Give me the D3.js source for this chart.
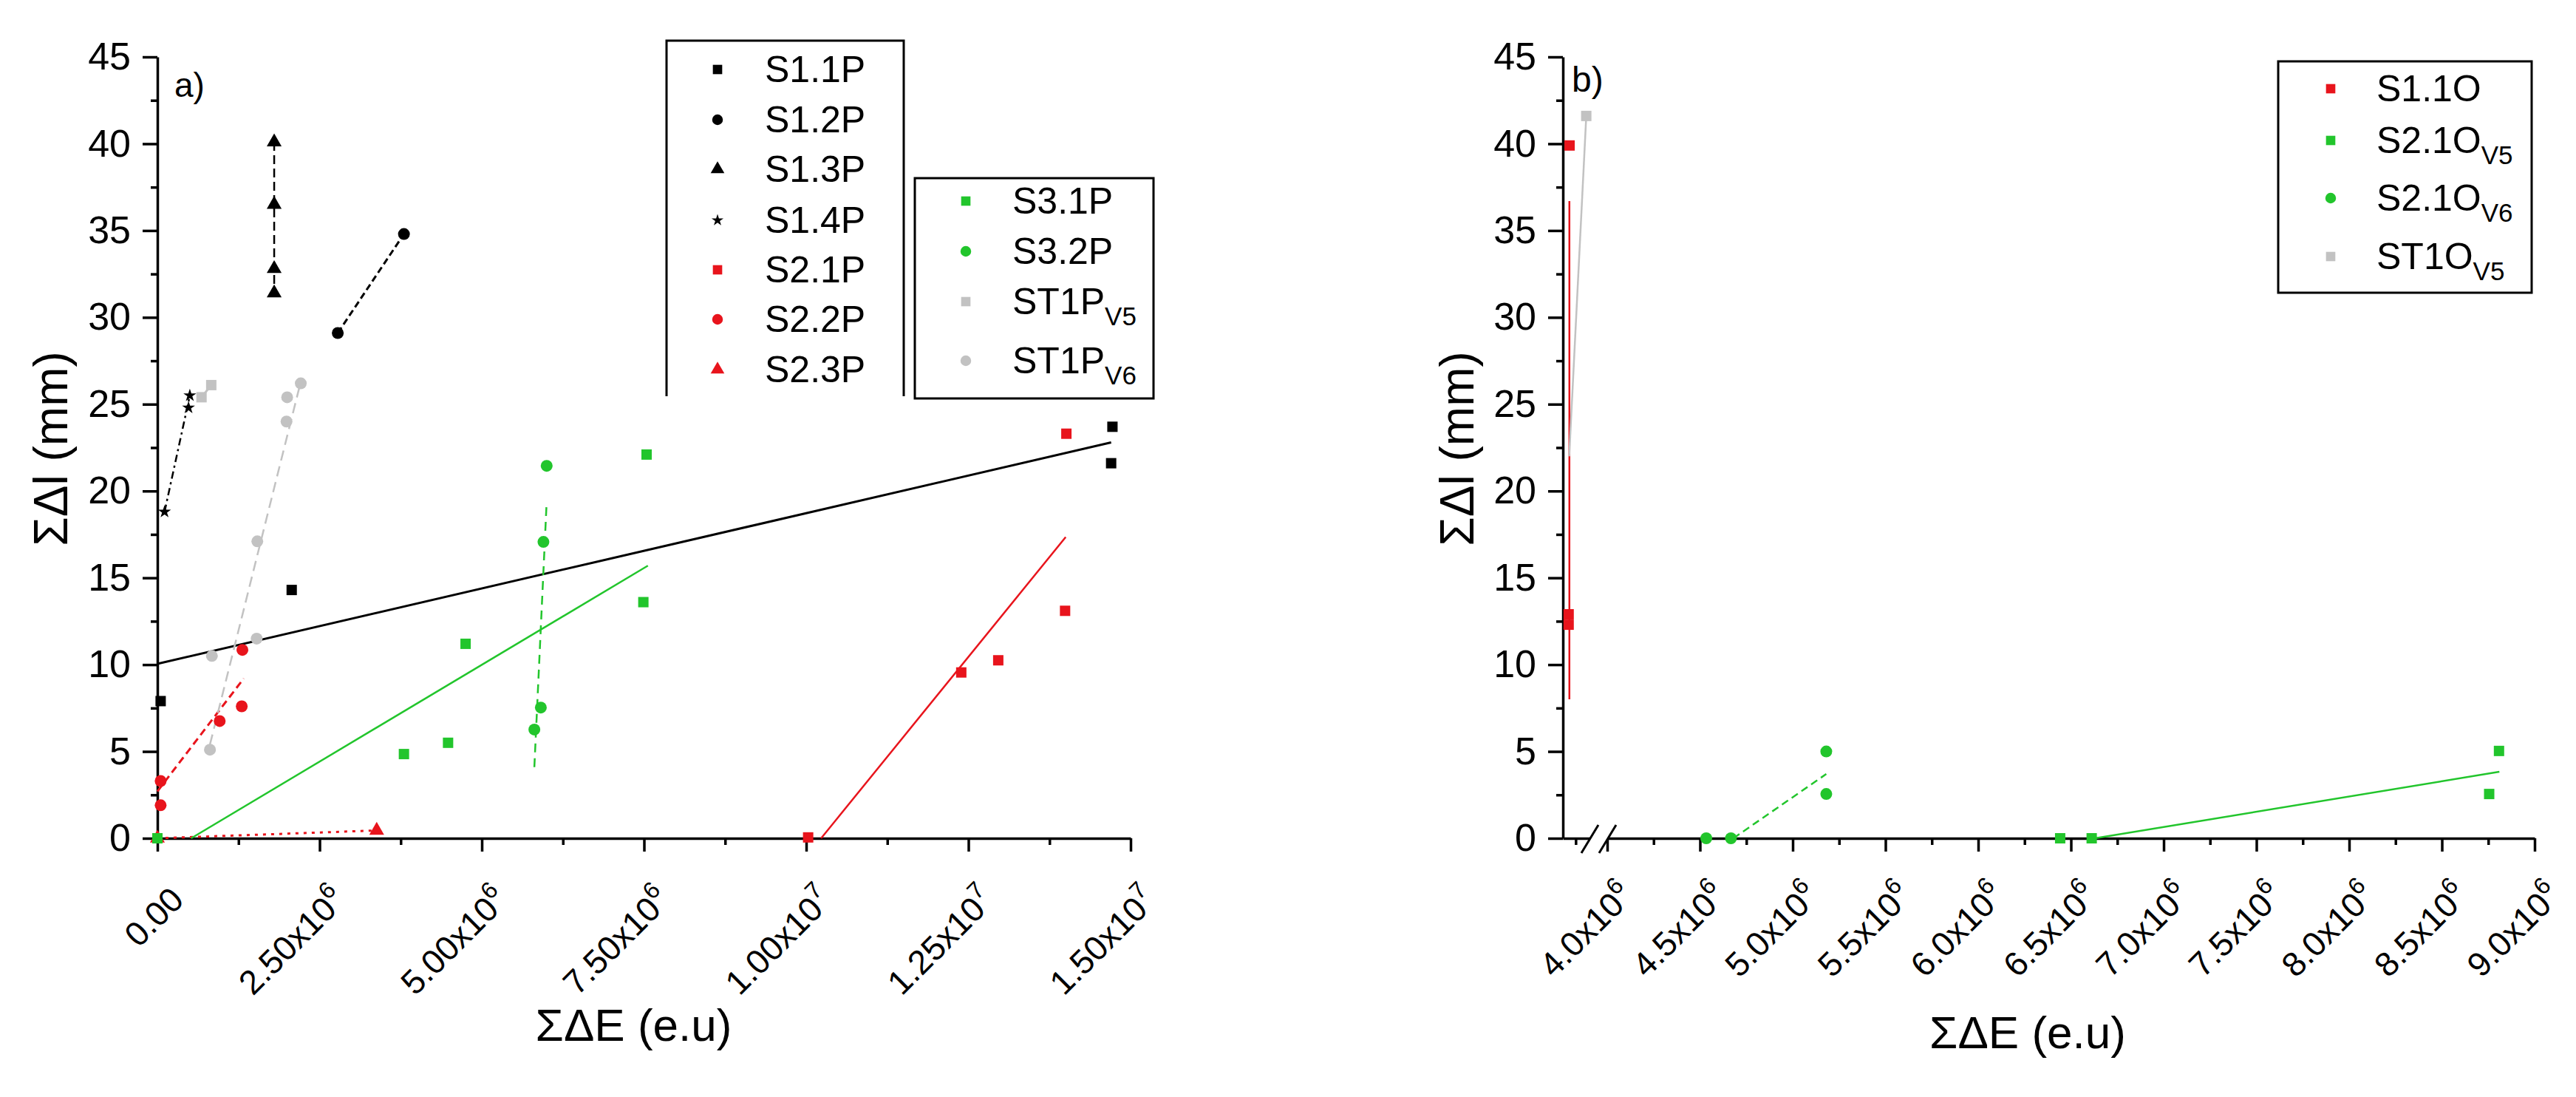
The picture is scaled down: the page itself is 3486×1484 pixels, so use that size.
<!DOCTYPE html>
<html>
<head>
<meta charset="utf-8">
<script src="https://cdn.jsdelivr.net/npm/d3@7"></script>
<style>
body { margin: 0; background: #fff; }
text { font-family: 'Liberation Sans', Arial, sans-serif; fill: #000; }
</style>
</head>
<body>
<div id="chart"></div>
<script>
// ---- panel a) data : [energy, elongation]
var S11P = [[0.05e6, 7.9], [2.07e6, 14.3], [14.72e6, 23.7], [14.70e6, 21.6]]
var S11P_fit = [[0, 10.05], [14.7e6, 22.8]]
var S12P = [[2.78e6, 29.1], [3.80e6, 34.8]]
var S13P = [[1.8e6, 40.1], [1.8e6, 36.5], [1.8e6, 32.8], [1.8e6, 31.4]]
var S14P = [[0.11e6, 18.8], [0.48e6, 24.8], [0.50e6, 25.5]]
var S21P = [[10.03e6, 0.05], [12.39e6, 9.55], [12.96e6, 10.25], [13.99e6, 13.1], [14.01e6, 23.3]]
var S21P_fit = [[10.23e6, 0], [14.0e6, 17.35]]
var S22P = [[0.05e6, 3.3], [0.05e6, 1.9], [0.96e6, 6.75], [1.30e6, 7.6], [1.31e6, 10.85]]
var S22P_fit = [[0, 2.7], [1.33e6, 9.2]]
var S23P = [[0, 0], [3.38e6, 0.45]]
var S31P = [[0, 0], [3.80e6, 4.85], [4.48e6, 5.5], [4.75e6, 11.2], [7.49e6, 13.6], [7.54e6, 22.1]]
var S31P_fit = [[0.52e6, 0], [7.56e6, 15.7]]
var S32P = [[6.0e6, 21.45], [5.95e6, 17.07], [5.91e6, 7.53], [5.81e6, 6.26]]
var S32P_fit = [[5.81e6, 4.1], [6.0e6, 19.4]]
var ST1PV5 = [[0.68e6, 25.4], [0.83e6, 26.1]]
var ST1PV6 = [[2.0e6, 25.4], [1.99e6, 24.0], [2.21e6, 26.2], [1.54e6, 17.1], [1.53e6, 11.5], [0.84e6, 10.5], [0.81e6, 5.1]]
var ST1PV6_fit = [[0.81e6, 5.4], [2.19e6, 26.0]]

// ---- panel b) data
var S11O = [[3.797e6, 39.9], [3.792e6, 12.9], [3.792e6, 12.3]]
var S11O_fit = [[3.796e6, 8.0], [3.796e6, 36.7]]
var ST1OV5 = [[3.887e6, 41.6]]
var ST1OV5_fit = [[3.795e6, 22.0], [3.887e6, 41.6]]
var S21OV5 = [[6.442e6, 0], [6.612e6, 0], [8.808e6, 5.03], [8.755e6, 2.55]]
var S21OV5_fit = [[6.63e6, 0], [8.81e6, 3.83]]
var S21OV6 = [[4.534e6, 0], [4.667e6, 0], [5.181e6, 5.0], [5.181e6, 2.55]]
var S21OV6_fit = [[4.68e6, 0], [5.181e6, 3.7]]

// ---- ticks
var yTicks = [0, 5, 10, 15, 20, 25, 30, 35, 40, 45]
var xTicksA = [0, 2.5e6, 5.0e6, 7.5e6, 1.0e7, 1.25e7, 1.5e7]
var xTickLabelsA = ['0.00', '2.50x10^6', '5.00x10^6', '7.50x10^6', '1.00x10^7', '1.25x10^7', '1.50x10^7']
var xTicksB = [4.0e6, 4.5e6, 5.0e6, 5.5e6, 6.0e6, 6.5e6, 7.0e6, 7.5e6, 8.0e6, 8.5e6, 9.0e6]
var xTickLabelsB = ['4.0x10^6', '4.5x10^6', '5.0x10^6', '5.5x10^6', '6.0x10^6', '6.5x10^6', '7.0x10^6', '7.5x10^6', '8.0x10^6', '8.5x10^6', '9.0x10^6']

var BLACK = '#000', RED = '#e8141c', GREEN = '#22c52c', GRAY = '#c2c2c2'

var svg = d3.select('#chart')
    .append('svg')
    .attr('width', 3486)
    .attr('height', 1484)
    .style('background', '#fff')

var y = d3.scaleLinear().domain([0, 45]).range([1134, 77])

draw1()
draw2()

function drawAxes(x, xMinor, xTicks, xLabels, labelDy, yTitleX) {
    var g = svg.append('g')

    g.append('g')
        .attr('transform', `translate(0, ${y(0)})`)
        .call(d3.axisBottom(x).tickValues(xMinor).tickSize(9).tickSizeOuter(0).tickFormat(''))
        .call(a => a.select('.domain').remove())
    g.append('g')
        .attr('transform', `translate(0, ${y(0)})`)
        .call(d3.axisBottom(x).tickValues(xTicks).tickSize(18).tickSizeOuter(0).tickFormat(''))

    var x0 = x.range()[0]
    g.append('g')
        .attr('transform', `translate(${x0}, 0)`)
        .call(d3.axisLeft(y).tickValues(d3.range(2.5, 45, 5)).tickSize(9).tickSizeOuter(0).tickFormat(''))
        .call(a => a.select('.domain').remove())
    var ya = g.append('g')
        .attr('transform', `translate(${x0}, 0)`)
        .call(d3.axisLeft(y).tickValues(yTicks).tickSize(20).tickSizeOuter(0).tickPadding(16))
    ya.selectAll('text')
        .attr('font-size', 52)
        .attr('font-family', "'Liberation Sans', Arial, sans-serif")

    g.selectAll('path.domain, line').attr('stroke', BLACK).attr('stroke-width', 3.5)

    // rotated tick labels with superscript exponent
    var lab = g.append('g').selectAll('text')
        .data(xTicks)
        .enter().append('text')
        .attr('text-anchor', 'end')
        .attr('font-size', 46)
        .attr('transform', d => `translate(${x(d) + 38}, ${y(0) + labelDy}) rotate(-45)`)
    lab.each(function (d, i) {
        var parts = xLabels[i].split('^')
        var t = d3.select(this)
        t.append('tspan').text(parts[0])
        if (parts[1]) {
            t.append('tspan').attr('font-size', 32).attr('dy', -20).text(parts[1])
        }
    })

    g.append('text')
        .attr('transform', `translate(${yTitleX}, 607) rotate(-90)`)
        .attr('text-anchor', 'middle')
        .attr('font-size', 64)
        .text('ΣΔl (mm)')
    return g
}

function line(g, pts, color, width, dash) {
    g.append('path')
        .attr('d', d3.line().x(d => g.x(d[0])).y(d => y(d[1]))(pts))
        .attr('fill', 'none')
        .attr('stroke', color)
        .attr('stroke-width', width)
        .attr('stroke-dasharray', dash || null)
}

function points(g, pts, shape, size, color) {
    g.append('g').selectAll('path')
        .data(pts)
        .enter().append('path')
        .attr('d', d3.symbol().type(shape).size(size))
        .attr('transform', d => `translate(${g.x(d[0])}, ${y(d[1])})`)
        .attr('fill', color)
}

function legendRow(g, lx, tx, ry, shape, size, color, label) {
    g.append('path')
        .attr('d', d3.symbol().type(shape).size(size))
        .attr('transform', `translate(${lx}, ${ry})`)
        .attr('fill', color)
    var parts = label.split('_')
    var t = g.append('text')
        .attr('x', tx)
        .attr('y', ry + 17)
        .attr('font-size', 50)
    t.append('tspan').text(parts[0])
    if (parts[1]) {
        t.append('tspan').attr('font-size', 35).attr('dy', 15).text(parts[1])
    }
}

function draw1() {
    var x = d3.scaleLinear().domain([0, 1.5e7]).range([213, 1530])
    drawAxes(x, d3.range(1.25e6, 1.5e7, 2.5e6), xTicksA, xTickLabelsA, 86, 91)

    var g = svg.append('g')
    g.x = x

    line(g, S11P_fit, BLACK, 3)
    line(g, S12P, BLACK, 3, '9,5')
    line(g, [S13P[0], S13P[3]], BLACK, 2.5, '12,6')
    line(g, [S14P[0], S14P[2]], BLACK, 2.5, '10,5,3,5')
    line(g, S21P_fit, RED, 2.5)
    line(g, S22P_fit, RED, 3, '10,6')
    line(g, S23P, RED, 3, '4,7')
    line(g, S31P_fit, GREEN, 2.5)
    line(g, S32P_fit, GREEN, 2.5, '12,8')
    line(g, ST1PV5, GRAY, 3)
    line(g, ST1PV6_fit, GRAY, 2.5, '14,8')

    points(g, ST1PV5, d3.symbolSquare, 196, GRAY)
    points(g, ST1PV6, d3.symbolCircle, 201, GRAY)
    points(g, S11P, d3.symbolSquare, 196, BLACK)
    points(g, S12P, d3.symbolCircle, 201, BLACK)
    points(g, S13P, d3.symbolTriangle, 175, BLACK)
    points(g, S14P, d3.symbolStar, 95, BLACK)
    points(g, S21P, d3.symbolSquare, 196, RED)
    points(g, S22P, d3.symbolCircle, 201, RED)
    points(g, S23P, d3.symbolTriangle, 175, RED)
    points(g, S31P, d3.symbolSquare, 196, GREEN)
    points(g, S32P, d3.symbolCircle, 201, GREEN)

    svg.append('text').attr('x', 236).attr('y', 131).attr('font-size', 46).text('a)')

    svg.append('text')
        .attr('x', (x.range()[0] + x.range()[1]) / 2 - 14)
        .attr('y', 1408)
        .attr('text-anchor', 'middle')
        .attr('font-size', 62)
        .text('ΣΔE (e.u)')

    // legend 1 (box open at the bottom)
    var l1 = svg.append('g')
    l1.append('path')
        .attr('d', 'M902,536V55H1223V536')
        .attr('fill', '#fff')
        .attr('stroke', BLACK)
        .attr('stroke-width', 3)
    var rows1 = [94, 162, 229, 298, 365, 432, 500]
    legendRow(l1, 971, 1035, rows1[0], d3.symbolSquare, 160, BLACK, 'S1.1P')
    legendRow(l1, 971, 1035, rows1[1], d3.symbolCircle, 165, BLACK, 'S1.2P')
    legendRow(l1, 971, 1035, rows1[2], d3.symbolTriangle, 150, BLACK, 'S1.3P')
    legendRow(l1, 971, 1035, rows1[3], d3.symbolStar, 80, BLACK, 'S1.4P')
    legendRow(l1, 971, 1035, rows1[4], d3.symbolSquare, 160, RED, 'S2.1P')
    legendRow(l1, 971, 1035, rows1[5], d3.symbolCircle, 165, RED, 'S2.2P')
    legendRow(l1, 971, 1035, rows1[6], d3.symbolTriangle, 150, RED, 'S2.3P')

    var l2 = svg.append('g')
    l2.append('rect')
        .attr('x', 1238).attr('y', 241)
        .attr('width', 323).attr('height', 298)
        .attr('fill', '#fff')
        .attr('stroke', BLACK)
        .attr('stroke-width', 3)
    legendRow(l2, 1307, 1370, 272, d3.symbolSquare, 160, GREEN, 'S3.1P')
    legendRow(l2, 1307, 1370, 340, d3.symbolCircle, 165, GREEN, 'S3.2P')
    legendRow(l2, 1307, 1370, 408, d3.symbolSquare, 160, GRAY, 'ST1P_V5')
    legendRow(l2, 1307, 1370, 488, d3.symbolCircle, 165, GRAY, 'ST1P_V6')
}

function draw2() {
    var x = d3.scaleLinear().domain([3.761e6, 9.0e6]).range([2115, 3430])
    var minor = [3.83e6].concat(d3.range(4.25e6, 9.0e6, 0.5e6))
    drawAxes(x, minor, xTicksB, xTickLabelsB, 80, 1994)

    // axis break marks
    var bx = x(4.0e6)
    var brk = svg.append('g')
    brk.append('path')
        .attr('d', `M${bx - 35},${y(0) + 19}L${bx - 12},${y(0) - 19}L${bx + 12},${y(0) - 19}L${bx - 11},${y(0) + 19}Z`)
        .attr('fill', '#fff')
    ;[bx - 24, bx].forEach(cx => {
        brk.append('line')
            .attr('x1', cx - 11).attr('y1', y(0) + 20)
            .attr('x2', cx + 12).attr('y2', y(0) - 18)
            .attr('stroke', BLACK)
            .attr('stroke-width', 3)
    })

    var g = svg.append('g')
    g.x = x

    line(g, S11O_fit, RED, 2.5)
    line(g, ST1OV5_fit, GRAY, 2.5)
    line(g, S21OV5_fit, GREEN, 2.5)
    line(g, S21OV6_fit, GREEN, 2.5, '10,6')

    points(g, S11O, d3.symbolSquare, 196, RED)
    points(g, ST1OV5, d3.symbolSquare, 196, GRAY)
    points(g, S21OV5, d3.symbolSquare, 196, GREEN)
    points(g, S21OV6, d3.symbolCircle, 201, GREEN)

    svg.append('text').attr('x', 2127).attr('y', 124).attr('font-size', 48).text('b)')

    svg.append('text')
        .attr('x', 2744)
        .attr('y', 1418)
        .attr('text-anchor', 'middle')
        .attr('font-size', 62)
        .text('ΣΔE (e.u)')

    var l3 = svg.append('g')
    l3.append('rect')
        .attr('x', 3083).attr('y', 83)
        .attr('width', 343).attr('height', 313)
        .attr('fill', '#fff')
        .attr('stroke', BLACK)
        .attr('stroke-width', 3)
    legendRow(l3, 3154, 3216, 120, d3.symbolSquare, 160, RED, 'S1.1O')
    legendRow(l3, 3154, 3216, 190, d3.symbolSquare, 160, GREEN, 'S2.1O_V5')
    legendRow(l3, 3154, 3216, 268, d3.symbolCircle, 165, GREEN, 'S2.1O_V6')
    legendRow(l3, 3154, 3216, 347, d3.symbolSquare, 160, GRAY, 'ST1O_V5')
}
</script>
</body>
</html>
